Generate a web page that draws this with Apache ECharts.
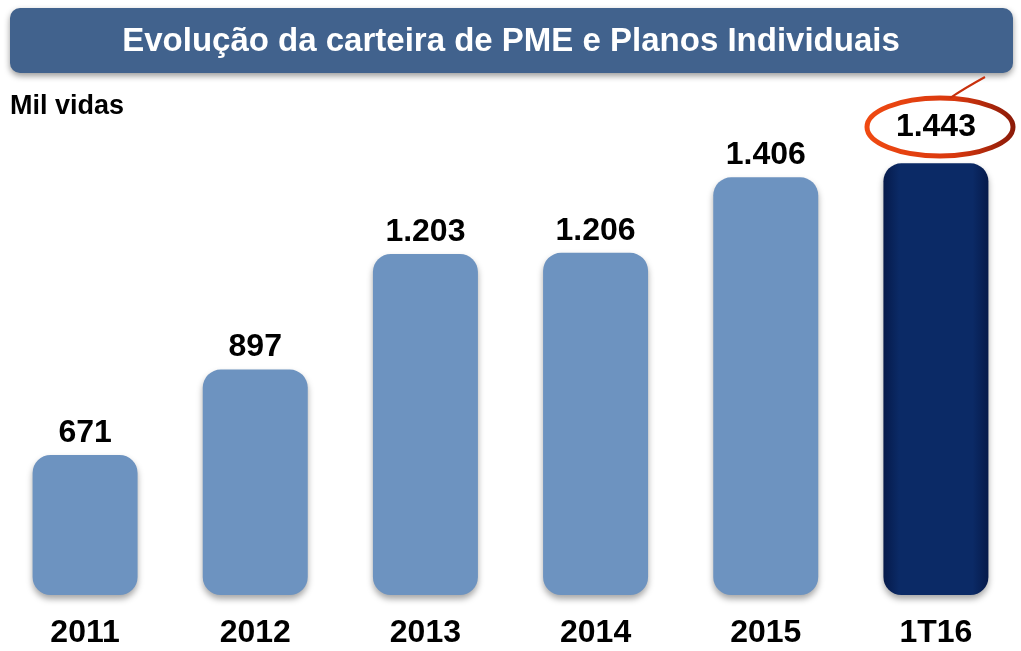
<!DOCTYPE html>
<html>
<head>
<meta charset="utf-8">
<script src="https://cdn.jsdelivr.net/npm/echarts@6/dist/echarts.min.js"></script>
<style>
  html, body { margin: 0; padding: 0; background: #fff; }
  #chart { width: 1021px; height: 651px; }
</style>
</head>
<body>
<div id="chart"></div>
<script>
  // categorias e valores (mil vidas)
  var categories = ['2011', '2012', '2013', '2014', '2015', '1T16'];
  var values = [671, 897, 1203, 1206, 1406, 1443];
  var lastIndex = 5; // barra em destaque

  var chart = echarts.init(document.getElementById('chart'));

  function fmt(v) {
    // separador de milhar brasileiro
    return String(v).replace(/\B(?=(\d{3})+(?!\d))/g, '.');
  }

  var lightBar = {
    color: '#6d93c0',
    borderRadius: 18,
    shadowBlur: 6,
    shadowOffsetY: 4,
    shadowColor: 'rgba(0,0,0,0.35)'
  };
  var darkBar = {
    color: {
      type: 'linear', x: 0, y: 0, x2: 1, y2: 0,
      colorStops: [
        {offset: 0, color: '#061a4a'},
        {offset: 0.15, color: '#0b2a66'},
        {offset: 0.85, color: '#0b2a66'},
        {offset: 1, color: '#061a4a'}
      ]
    },
    borderRadius: 18,
    shadowBlur: 6,
    shadowOffsetY: 4,
    shadowColor: 'rgba(0,0,0,0.35)'
  };

  var barData = values.map(function (v, i) {
    var d = {value: v, itemStyle: i === lastIndex ? darkBar : lightBar};
    if (i === lastIndex) d.label = {distance: 20};
    return d;
  });

  chart.setOption({
    animation: false,
    textStyle: {fontFamily: 'Liberation Sans, Arial, sans-serif'},
    grid: {left: 0, right: 0, top: 104, bottom: 56},
    xAxis: {
      type: 'category',
      data: categories,
      axisLine: {show: false},
      axisTick: {show: false},
      axisLabel: {
        margin: 22,
        fontSize: 32,
        fontWeight: 'bold',
        color: '#000'
      }
    },
    yAxis: {
      type: 'value',
      min: 300,
      max: 1600,
      show: false,
      splitLine: {show: false}
    },
    series: [
      {
        type: 'bar',
        data: barData,
        barWidth: 105,
        label: {
          show: true,
          position: 'top',
          distance: 6,
          fontSize: 32,
          fontWeight: 'bold',
          color: '#000',
          formatter: function (p) { return fmt(p.value); }
        }
      }
    ],
    graphic: [
      {
        type: 'rect',
        shape: {x: 10, y: 8, width: 1003, height: 65, r: 10},
        style: {
          fill: '#41628d',
          shadowBlur: 6,
          shadowOffsetY: 3,
          shadowColor: 'rgba(0,0,0,0.4)'
        }
      },
      {
        type: 'text',
        x: 511, y: 42,
        style: {
          text: 'Evolução da carteira de PME e Planos Individuais',
          fill: '#fff',
          font: 'bold 33px "Liberation Sans", Arial, sans-serif',
          align: 'center',
          verticalAlign: 'middle'
        }
      },
      {
        type: 'text',
        x: 10, y: 107,
        style: {
          text: 'Mil vidas',
          fill: '#000',
          font: 'bold 27px "Liberation Sans", Arial, sans-serif',
          verticalAlign: 'middle'
        }
      },
      {
        type: 'ellipse',
        shape: {cx: 940, cy: 127, rx: 73, ry: 29},
        style: {
          fill: 'none',
          lineWidth: 5,
          stroke: {
            type: 'linear', x: 0, y: 0, x2: 1, y2: 0,
            colorStops: [
              {offset: 0, color: '#f04a12'},
              {offset: 0.6, color: '#d8380e'},
              {offset: 1, color: '#8a1a08'}
            ]
          }
        }
      },
      {
        type: 'bezierCurve',
        shape: {x1: 950, y1: 98, x2: 985, y2: 77, cpx1: 965, cpy1: 88},
        style: {stroke: '#c8300c', lineWidth: 2, fill: 'none'}
      }
    ]
  });
</script>
</body>
</html>
